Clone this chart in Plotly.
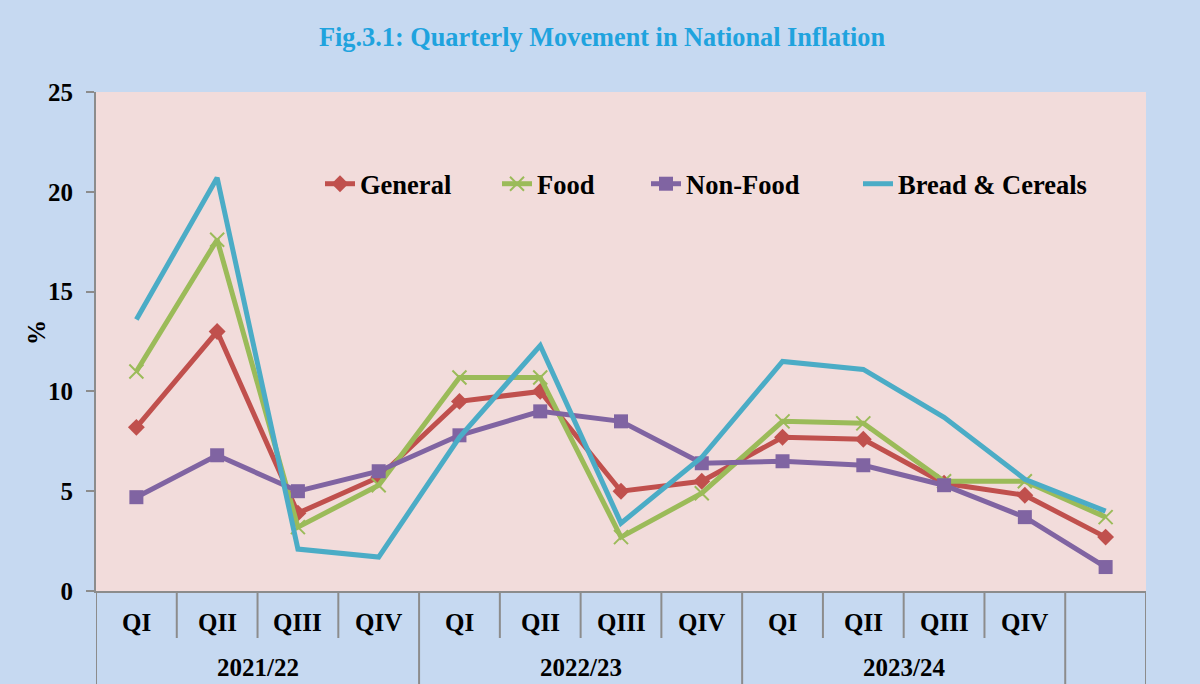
import plotly.graph_objects as go

quarters = ["QI", "QII", "QIII", "QIV", "QI", "QII", "QIII", "QIV", "QI", "QII", "QIII", "QIV", ""]
years = ["2021/22", "2022/23", "2023/24"]
general = [8.2, 13.0, 3.9, 5.7, 9.5, 10.0, 5.0, 5.5, 7.7, 7.6, 5.4, 4.8, 2.7]
food = [11.0, 17.6, 3.2, 5.3, 10.7, 10.7, 2.7, 4.9, 8.5, 8.4, 5.5, 5.5, 3.7]
non_food = [4.7, 6.8, 5.0, 6.0, 7.8, 9.0, 8.5, 6.4, 6.5, 6.3, 5.3, 3.7, 1.2]
bread_cereals = [13.6, 20.7, 2.1, 1.7, 7.7, 12.3, 3.4, 6.7, 11.5, 11.1, 8.7, 5.6, 4.0]

FONT = "Liberation Serif"
FS = 25
xs = list(range(len(quarters)))

fig = go.Figure()
fig.add_trace(go.Scatter(x=xs, y=general, name="General", mode="lines+markers", legend="legend",
                         line=dict(color="#c0504d", width=5),
                         marker=dict(symbol="diamond", size=13, color="#c0504d")))
fig.add_trace(go.Scatter(x=xs, y=food, name="Food", mode="lines+markers", legend="legend2",
                         line=dict(color="#9bbb59", width=5),
                         marker=dict(symbol="x-thin", size=14, color="#9bbb59",
                                     line=dict(color="#9bbb59", width=2))))
fig.add_trace(go.Scatter(x=xs, y=non_food, name="Non-Food", mode="lines+markers", legend="legend3",
                         line=dict(color="#8064a2", width=5),
                         marker=dict(symbol="square", size=14, color="#8064a2")))
fig.add_trace(go.Scatter(x=xs, y=bread_cereals, name="Bread & Cereals", mode="lines", legend="legend4",
                         line=dict(color="#4bacc6", width=5)))

H_PLOT = 684 - 92 - 93
shapes = []
n = len(quarters)
for k in range(n + 1):
    b = k - 0.5
    full = (k % 4 == 0) or k >= 12
    y1 = -0.25 if full else -(638 - 591) / H_PLOT
    shapes.append(dict(type="line", xref="x", yref="paper", x0=b, x1=b, y0=0, y1=y1,
                       line=dict(color="#8c8c8c", width=2), layer="above"))

bold = dict(family=FONT, size=FS, color="black", weight="bold")
legfont = dict(family=FONT, size=26.5, color="black", weight="bold")
annotations = []
for i, q in enumerate(quarters):
    if q:
        annotations.append(dict(x=i, y=-(622 - 591) / H_PLOT, xref="x", yref="paper",
                                text=q, showarrow=False, yanchor="middle", font=bold))
for j, yr in enumerate(years):
    annotations.append(dict(x=j * 4 + 1.5, y=-(667 - 591) / H_PLOT, xref="x", yref="paper",
                            text=yr, showarrow=False, yanchor="middle", font=bold))
annotations.append(dict(x=(36 - 96) / 1050, y=(591 - 333) / H_PLOT, xref="paper", yref="paper",
                        text="%", textangle=-90, showarrow=False, xanchor="center",
                        yanchor="middle", font=bold))


def leg(x_px):
    return dict(orientation="h", x=(x_px - 96) / 1050, xanchor="left",
                y=(591 - 184) / H_PLOT, yanchor="middle", bgcolor="rgba(0,0,0,0)",
                font=legfont, itemwidth=30)


fig.update_layout(
    width=1200, height=684,
    margin=dict(l=96, r=54, t=92, b=93),
    paper_bgcolor="#c6d9f1",
    plot_bgcolor="#f2dcdb",
    font=dict(family=FONT, color="black"),
    title=dict(text="<b>Fig.3.1: Quarterly Movement in National Inflation</b>",
               x=(316 + 888) / 2 / 1200, xanchor="center", y=1 - 37 / 684, yanchor="middle",
               font=dict(family=FONT, size=26.3, color="#1fa3de")),
    xaxis=dict(range=[-0.5, 12.5], showticklabels=False, showgrid=False, zeroline=False,
               showline=True, linecolor="#8c8c8c", linewidth=2, ticks=""),
    yaxis=dict(range=[0, 25], dtick=5, showgrid=False, zeroline=False,
               showline=True, linecolor="#8c8c8c", linewidth=2,
               ticks="outside", ticklen=8, tickcolor="#8c8c8c", tickwidth=2,
               ticklabelstandoff=8, tickfont=bold),
    legend=leg(320),
    legend2=leg(497),
    legend3=leg(646),
    legend4=leg(858),
    shapes=shapes,
    annotations=annotations,
    showlegend=True,
)

fig.write_html("out.html", config={"displayModeBar": False},
               post_script="document.body.style.margin='0';document.body.style.padding='0';")
